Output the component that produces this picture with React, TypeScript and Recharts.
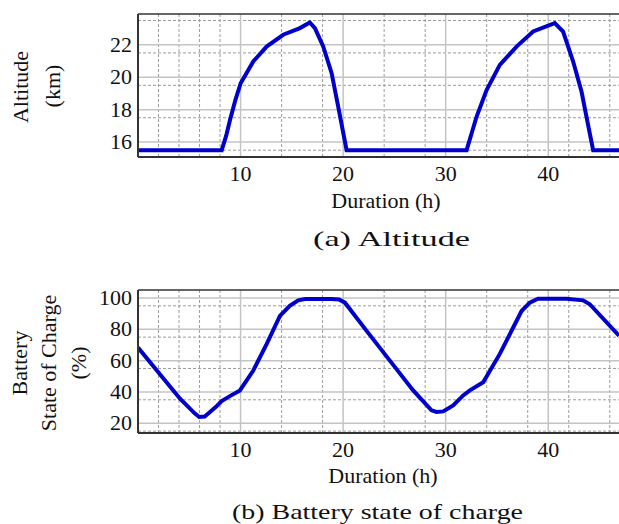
import React from "react";
import {
  LineChart,
  Line,
  XAxis,
  YAxis,
  CartesianGrid,
  ReferenceLine,
} from "recharts";

// duration (h) and altitude (km)
const altitudeHours = [
  0, 8.16, 8.6, 8.97, 9.5, 10.01, 11.24, 12.54, 14.16, 15.79, 16.75, 17.25,
  18.06, 18.88, 19.52, 20.34, 32.04, 33.01, 33.99, 35.28, 36.91, 38.53, 40.64,
  41.45, 42.43, 43.25, 43.89, 44.38, 46.9,
];
const altitudeKm = [
  15.5, 15.5, 16.4, 17.36, 18.6, 19.63, 20.97, 21.89, 22.62, 23.03, 23.38,
  23.03, 21.9, 20.25, 18.18, 15.5, 15.5, 17.56, 19.21, 20.76, 21.89, 22.82,
  23.34, 22.82, 20.97, 19.1, 17.05, 15.5, 15.5,
];

// duration (h) and battery state of charge (%), bottom panel
const socHours = [
  0, 4.1, 5.5, 5.97, 6.5, 7.02, 7.6, 8.16, 9.0, 9.94, 11.24, 12.54, 13.84,
  14.8, 15.62, 16.3, 18.88, 19.6, 20.18, 22.29, 24.56, 26.83, 28.62, 29.11,
  29.76, 30.73, 31.71, 32.36, 33.66, 35.28, 37.4, 38.2, 39.0, 41.78, 43.4,
  44.05, 46.9,
];
const socPct = [
  68.4, 35.7, 26.5, 24.0, 24.3, 27.2, 30.5, 34.2, 37.5, 41.0, 53.7, 70.6, 88.6,
  95, 98.5, 99.3, 99.3, 99.0, 97.0, 79.0, 60.0, 41.0, 28.3, 27.2, 27.6, 31.4,
  37.8, 41.0, 46.2, 64.3, 91.7, 97.0, 99.5, 99.5, 98.5, 96.0, 75.9,
];

const hourTicks = [10, 20, 30, 40];
const hourMinor = [2, 4, 6, 8, 12, 14, 16, 18, 22, 24, 26, 28, 32, 34, 36, 38, 42, 44, 46];
const altTicks = [16, 18, 20, 22];
const altMinor = [15.5, 16.5, 17, 17.5, 18.5, 19, 19.5, 20.5, 21, 21.5, 22.5, 23, 23.5];
const socTicks = [20, 40, 60, 80, 100];
const socMinor = [15, 25, 30, 35, 45, 50, 55, 65, 70, 75, 85, 90, 95];

const altData = altitudeHours.map((h, i) => ({ h, v: altitudeKm[i] }));
const socData = socHours.map((h, i) => ({ h, v: socPct[i] }));

const FONT = "'Liberation Serif', Tinos, 'Times New Roman', Times, 'DejaVu Serif', 'Noto Serif', serif";
const X_MAX = 46.9;

const SerifTick = (props: any) => {
  const { x, y, payload, textAnchor, verticalAnchor } = props;
  const dy = verticalAnchor === "start" ? "0.71em" : "0.32em";
  return (
    <text x={x} y={y} dy={dy} textAnchor={textAnchor} fill="#111" style={{ fontSize: 22, fontFamily: FONT }}>
      {payload.value}
    </text>
  );
};

type PanelProps = {
  data: { h: number; v: number }[];
  domain: [number, number];
  ticks: number[];
  minor: number[];
};

const Panel = ({ data, domain, ticks, minor }: PanelProps) => (
  <LineChart
    width={619}
    height={200}
    data={data}
    margin={{ top: 14, right: 0, bottom: 3, left: 78 }}
  >
    <CartesianGrid
      stroke="#9c9c9c"
      strokeDasharray="3 2"
      strokeWidth={1}
      horizontalValues={minor}
      verticalValues={hourMinor}
    />
    <CartesianGrid
      stroke="#c4c4c4"
      strokeWidth={1.5}
      horizontalValues={ticks}
      verticalValues={hourTicks}
    />
    <XAxis
      dataKey="h"
      type="number"
      domain={[0, X_MAX]}
      ticks={hourTicks}
      allowDataOverflow
      tickLine={false}
      tickSize={0}
      tickMargin={8}
      height={40}
      axisLine={{ stroke: "#333", strokeWidth: 2 }}
      tick={<SerifTick />}
    />
    <YAxis
      type="number"
      domain={domain}
      ticks={ticks}
      allowDataOverflow
      tickLine={false}
      tickSize={0}
      tickMargin={6}
      width={60}
      axisLine={{ stroke: "#333", strokeWidth: 2 }}
      tick={<SerifTick />}
    />
    <ReferenceLine y={domain[1]} stroke="#333" strokeWidth={1.5} ifOverflow="visible" />
    <Line
      type="linear"
      dataKey="v"
      stroke="#0000cc"
      strokeWidth={4}
      dot={false}
      isAnimationActive={false}
    />
  </LineChart>
);

const App = () => {
  return (
    <div style={{ position: "absolute", left: 0, top: 0, width: 619, height: 524, background: "#fff" }}>
      <div style={{ position: "absolute", left: 0, top: 0 }}>
        <Panel data={altData} domain={[15.08, 23.9]} ticks={altTicks} minor={altMinor} />
      </div>
      <div style={{ position: "absolute", left: 0, top: 276 }}>
        <Panel data={socData} domain={[13.8, 105.1]} ticks={socTicks} minor={socMinor} />
      </div>
      <svg
        width={619}
        height={524}
        style={{ position: "absolute", left: 0, top: 0, pointerEvents: "none" }}
      >
        <g style={{ fontFamily: FONT, fontSize: 22 }} fill="#111">
          <text x={386} y={208} textAnchor="middle">Duration (h)</text>
          <text x={383} y={483} textAnchor="middle">Duration (h)</text>
          <text x={20} y={87} textAnchor="middle" dominantBaseline="central" transform="rotate(-90, 20, 87)">Altitude</text>
          <text x={52} y={86} textAnchor="middle" dominantBaseline="central" transform="rotate(-90, 52, 86)">(km)</text>
          <text x={19} y={363} textAnchor="middle" dominantBaseline="central" transform="rotate(-90, 19, 363)">Battery</text>
          <text x={48} y={363} textAnchor="middle" dominantBaseline="central" transform="rotate(-90, 48, 363)">State of Charge</text>
          <text x={78} y={363} textAnchor="middle" dominantBaseline="central" transform="rotate(-90, 78, 363)">(%)</text>
        </g>
        <g style={{ fontFamily: FONT, fontSize: 22 }} fill="#111">
          <text x={313} y={246} textLength={157} lengthAdjust="spacingAndGlyphs">(a) Altitude</text>
          <text x={232} y={519} textLength={291} lengthAdjust="spacingAndGlyphs">(b) Battery state of charge</text>
        </g>
      </svg>
    </div>
  );
};

export default App;
